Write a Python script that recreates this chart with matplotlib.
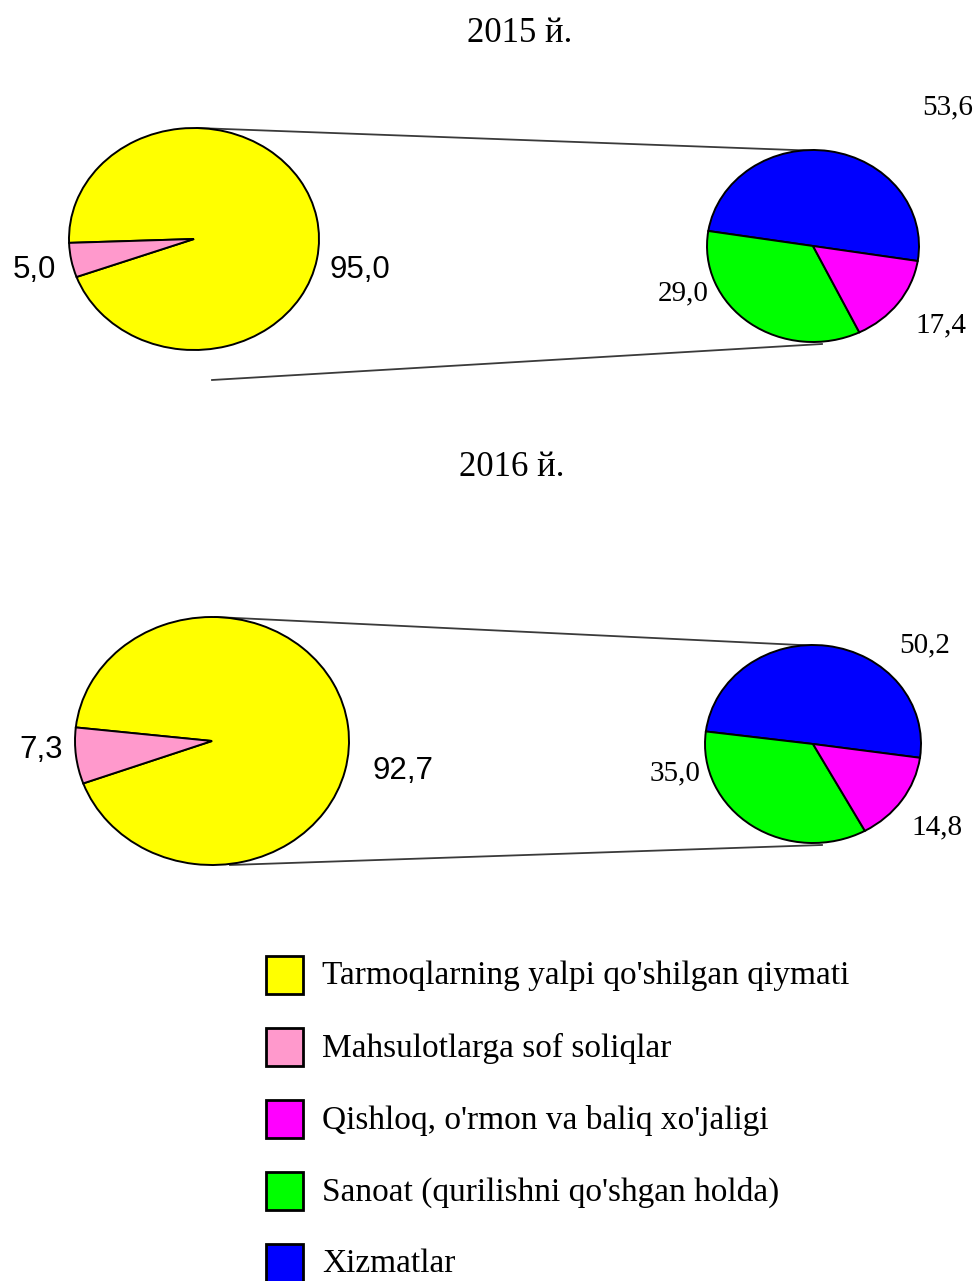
import matplotlib.pyplot as plt
from matplotlib.patches import Rectangle

# legend categories and colours
categories = ["Tarmoqlarning yalpi qo'shilgan qiymati", "Mahsulotlarga sof soliqlar",
              "Qishloq, o'rmon va baliq xo'jaligi", "Sanoat (qurilishni qo'shgan holda)",
              "Xizmatlar"]
colors = ["#ffff00", "#ff99cc", "#ff00ff", "#00ff00", "#0000ff"]

years = ["2015 й.", "2016 й."]
# big pie: value added, net taxes on products
main_2015 = [95.0, 5.0]
main_2016 = [92.7, 7.3]
# small pie: services, industry, agriculture
split_2015 = [53.6, 29.0, 17.4]
split_2016 = [50.2, 35.0, 14.8]
# the 2015 small pie of the source is drawn with these shares, not its labels
split_2015_drawn = [50.0, 34.7, 15.3]

W, H = 980, 1281
SANS = "Liberation Sans"
SERIF = "Liberation Serif"

fig = plt.figure(figsize=(W / 100, H / 100), dpi=100)
ov = fig.add_axes([0, 0, 1, 1])
ov.set_xlim(0, W)
ov.set_ylim(H, 0)
ov.axis("off")


def fmt(v):
    return f"{v:.1f}".replace(".", ",")


def pie_at(cx, cy, rx, ry, vals, cols, start):
    a = fig.add_axes([(cx - rx) / W, 1 - (cy + ry) / H, 2 * rx / W, 2 * ry / H])
    a.pie(vals, colors=cols, startangle=start, counterclock=True,
          wedgeprops=dict(edgecolor="black", linewidth=1.4, clip_on=False))
    a.set_aspect("auto")
    a.set_xlim(-1, 1)
    a.set_ylim(-1, 1)
    a.axis("off")
    return a


layout = [
    dict(title=(520, 33), left=(194, 239, 125, 111), right=(813, 246, 106, 96),
         lstart=200, rstart=-9, drop=30,
         main_pos=[(360, 270), (34, 270)], split_pos=[(948, 107), (683, 293), (941, 325)]),
    dict(title=(512, 468), left=(212, 741, 137, 124), right=(813, 744, 108, 99),
         lstart=200, rstart=-8, drop=0,
         main_pos=[(403, 771), (41, 750)], split_pos=[(925, 645), (675, 773), (937, 827)]),
]
mains = [main_2015, main_2016]
splits = [split_2015, split_2016]
drawn = [split_2015_drawn, split_2016]

for i, L in enumerate(layout):
    lcx, lcy, lrx, lry = L["left"]
    rcx, rcy, rrx, rry = L["right"]
    # connector lines
    ov.plot([lcx + 3, rcx + 8], [lcy - lry, rcy - rry + 1], color="#3a3a3a", lw=1.3)
    ov.plot([lcx + 18, rcx + 9], [lcy + lry + L["drop"], rcy + rry + 2], color="#3a3a3a", lw=1.3)

    pie_at(lcx, lcy, lrx, lry, mains[i], [colors[0], colors[1]], L["lstart"])
    pie_at(rcx, rcy, rrx, rry, drawn[i], [colors[4], colors[3], colors[2]], L["rstart"])

    ov.text(*L["title"], years[i], ha="center", va="center", fontsize=25, family=SERIF)
    for v, (x, y) in zip(mains[i], L["main_pos"]):
        ov.text(x, y, fmt(v), ha="center", va="center", fontsize=22.5, family=SANS)
    for v, (x, y) in zip(splits[i], L["split_pos"]):
        ov.text(x, y, fmt(v), ha="center", va="center", fontsize=21, family=SERIF)

# legend
for k, (lab, col) in enumerate(zip(categories, colors)):
    y = 975 + k * 72
    ov.add_patch(Rectangle((266, y - 19), 37, 38, facecolor=col, edgecolor="black", lw=2))
    ov.text(322, y + 1, lab, ha="left", va="center", fontsize=24, family=SERIF)

fig.savefig("out.png", dpi=100)
